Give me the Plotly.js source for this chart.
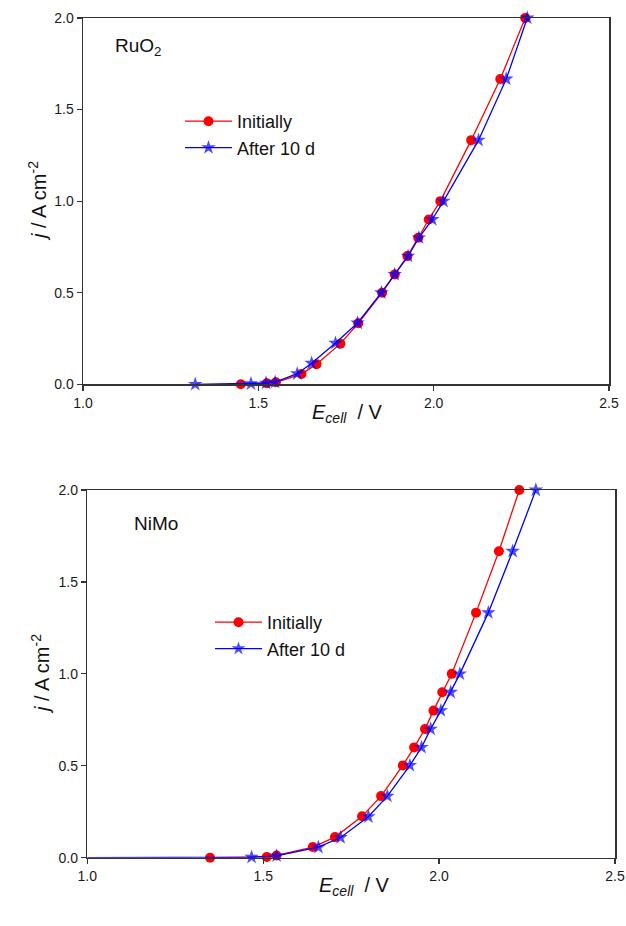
<!DOCTYPE html>
<html>
<head>
<meta charset="utf-8">
<script src="https://cdn.plot.ly/plotly-3.0.1.min.js"></script>
<style>html,body{margin:0;padding:0;background:#fff;}#chart{width:626px;height:926px;}</style>
</head>
<body>
<div id="chart"></div>
<script>
// ---- Data ----
// Panel 1: RuO2
const ruInitE = [1.45, 1.524, 1.55, 1.623, 1.666, 1.734, 1.785, 1.853, 1.889, 1.925, 1.956, 1.986, 2.019, 2.107, 2.19, 2.261];
const ruInitJ = [0.0, 0.006, 0.011, 0.056, 0.11, 0.222, 0.333, 0.5, 0.6, 0.7, 0.8, 0.9, 1.0, 1.333, 1.667, 2.0];
const ru10dE  = [1.32, 1.479, 1.522, 1.548, 1.611, 1.652, 1.72, 1.783, 1.851, 1.889, 1.927, 1.958, 1.996, 2.028, 2.128, 2.207, 2.267];
const ru10dJ  = [0.0, 0.003, 0.007, 0.012, 0.058, 0.115, 0.225, 0.335, 0.5, 0.6, 0.7, 0.8, 0.9, 1.0, 1.333, 1.667, 2.0];
// Panel 2: NiMo
const nmInitE = [1.349, 1.51, 1.538, 1.641, 1.704, 1.781, 1.835, 1.897, 1.929, 1.96, 1.984, 2.009, 2.036, 2.105, 2.17, 2.228];
const nmInitJ = [0.0, 0.004, 0.012, 0.058, 0.112, 0.225, 0.335, 0.502, 0.6, 0.7, 0.8, 0.9, 1.0, 1.333, 1.667, 2.0];
const nm10dE  = [0.9, 1.467, 1.538, 1.657, 1.72, 1.799, 1.853, 1.917, 1.95, 1.976, 2.005, 2.033, 2.059, 2.14, 2.209, 2.275];
const nm10dJ  = [0.0, 0.003, 0.01, 0.057, 0.11, 0.223, 0.335, 0.502, 0.6, 0.7, 0.8, 0.9, 1.0, 1.333, 1.667, 2.0];

const seriesNames = ['Initially', 'After 10 d'];
const panelLabels = ['RuO<sub>2</sub>', 'NiMo'];
const xTickVals = [1.0, 1.5, 2.0, 2.5];
const yTickVals = [0.0, 0.5, 1.0, 1.5, 2.0];

// ---- Styles ----
const RED = '#ff0000', BLUE = '#0000ff';
const FONT = 'Liberation Sans, Arial, sans-serif';

function visibleSizes(xs, s) { return xs.map(v => (v < 1.0 ? 0 : s)); }

function redTrace(x, y, xa, ya, lg) {
  return {x: x, y: y, xaxis: xa, yaxis: ya, legend: lg, name: seriesNames[0],
    type: 'scatter', mode: 'lines+markers', cliponaxis: false,
    line: {color: RED, width: 1.3},
    marker: {symbol: 'circle', size: 10, color: RED}};
}
function blueTrace(x, y, xa, ya, lg) {
  return {x: x, y: y, xaxis: xa, yaxis: ya, legend: lg, name: seriesNames[1],
    type: 'scatter', mode: 'lines+markers', cliponaxis: false,
    line: {color: BLUE, width: 1.3},
    marker: {symbol: 'star', size: visibleSizes(x, 11), color: BLUE, line: {width: 0}}};
}

const traces = [
  redTrace(ruInitE, ruInitJ, 'x', 'y', 'legend'),
  blueTrace(ru10dE, ru10dJ, 'x', 'y', 'legend'),
  redTrace(nmInitE, nmInitJ, 'x2', 'y2', 'legend2'),
  blueTrace(nm10dE, nm10dJ, 'x2', 'y2', 'legend2')
];

function xax(domain, anchor) {
  return {domain: domain, anchor: anchor, range: [1.0, 2.5], tickvals: xTickVals, tickformat: '.1f',
    showline: true, mirror: true, linecolor: '#333', linewidth: 1.5, showgrid: false, zeroline: false,
    ticks: 'outside', ticklen: 5, tickwidth: 1.3, tickcolor: '#333',
    tickfont: {family: FONT, size: 14, color: '#1a1a1a'}, fixedrange: true};
}
function yax(domain, anchor) {
  return {domain: domain, anchor: anchor, range: [0, 2.0], tickvals: yTickVals, tickformat: '.1f',
    showline: true, mirror: true, linecolor: '#333', linewidth: 1.5, showgrid: false, zeroline: false,
    ticks: 'outside', ticklen: 5, tickwidth: 1.3, tickcolor: '#333',
    tickfont: {family: FONT, size: 14, color: '#1a1a1a'}, fixedrange: true};
}

const W = 626, H = 926;
const px = v => v / W, py = v => 1 - v / H;

const legendCommon = {bgcolor: 'rgba(0,0,0,0)', borderwidth: 0, xanchor: 'left', yanchor: 'top',
  font: {family: FONT, size: 18, color: '#111'}, tracegroupgap: 0, itemwidth: 47};

const titleFont = {family: FONT, size: 20, color: '#111'};
const xTitle = '<i>E</i><sub><i>cell</i></sub>  / V';
const yTitle = '<i>j</i> / A cm<sup>-2</sup>';

const layout = {
  width: W, height: H,
  margin: {l: 0, r: 0, t: 0, b: 0},
  paper_bgcolor: '#fff', plot_bgcolor: '#fff',
  showlegend: true,
  xaxis: xax([px(83), px(609)], 'y'),
  yaxis: yax([py(384.3), py(18)], 'x'),
  xaxis2: xax([px(87.3), px(615)], 'y2'),
  yaxis2: yax([py(857.7), py(490)], 'x2'),
  legend: Object.assign({x: px(180), y: py(103)}, legendCommon),
  legend2: Object.assign({x: px(210), y: py(604)}, legendCommon),
  annotations: [
    {text: panelLabels[0], xref: 'paper', yref: 'paper', x: px(113), y: py(47), xanchor: 'left', yanchor: 'middle', showarrow: false, font: {family: FONT, size: 19, color: '#111'}},
    {text: panelLabels[1], xref: 'paper', yref: 'paper', x: px(132), y: py(523), xanchor: 'left', yanchor: 'middle', showarrow: false, font: {family: FONT, size: 19, color: '#111'}},
    {text: xTitle, xref: 'paper', yref: 'paper', x: px(347), y: py(413), xanchor: 'center', yanchor: 'middle', showarrow: false, font: titleFont},
    {text: xTitle, xref: 'paper', yref: 'paper', x: px(354), y: py(886), xanchor: 'center', yanchor: 'middle', showarrow: false, font: titleFont},
    {text: yTitle, xref: 'paper', yref: 'paper', x: px(37), y: py(201), xanchor: 'center', yanchor: 'middle', textangle: -90, showarrow: false, font: titleFont},
    {text: yTitle, xref: 'paper', yref: 'paper', x: px(40), y: py(674), xanchor: 'center', yanchor: 'middle', textangle: -90, showarrow: false, font: titleFont}
  ]
};

Plotly.newPlot('chart', traces, layout, {displayModeBar: false, staticPlot: true});
</script>
</body>
</html>
